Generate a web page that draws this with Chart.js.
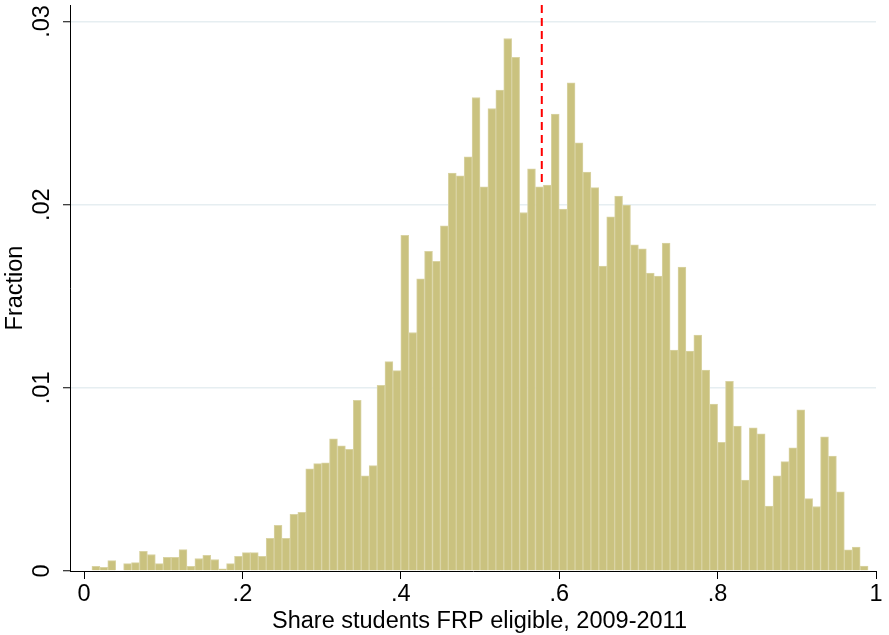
<!DOCTYPE html>
<html>
<head>
<meta charset="utf-8">
<script src="https://cdn.jsdelivr.net/npm/chart.js@4.4.1/dist/chart.umd.min.js"></script>
<style>
  html, body { margin: 0; padding: 0; background: #ffffff; }
  #wrap { width: 889px; height: 635px; }
</style>
</head>
<body>
<div id="wrap"><canvas id="chart" width="889" height="635"></canvas></div>
<script>
// Histogram bins: left edge of the first bin and the common bin width
const binStart = 0.01;
const binWidth = 0.01;

// Fraction of schools in each bin (98 bins, 0.01 .. 0.99)
const fractions = [
  0.00025, 0.00020, 0.00057, 0.00000, 0.00040, 0.00046, 0.00107, 0.00090, 0.00040, 0.00074,
  0.00074, 0.00117, 0.00025, 0.00068, 0.00085, 0.00063, 0.00012, 0.00040, 0.00080, 0.00100,
  0.00100, 0.00080, 0.00178, 0.00250, 0.00178, 0.00310, 0.00320, 0.00558, 0.00586, 0.00591,
  0.00722, 0.00684, 0.00664, 0.00932, 0.00520, 0.00575, 0.01014, 0.01143, 0.01094, 0.01833,
  0.01302, 0.01595, 0.01745, 0.01691, 0.01885, 0.02172, 0.02158, 0.02261, 0.02585, 0.02098,
  0.02525, 0.02626, 0.02907, 0.02804, 0.01957, 0.02196, 0.02097, 0.02107, 0.02495, 0.01976,
  0.02665, 0.02337, 0.02178, 0.02093, 0.01665, 0.01934, 0.02047, 0.01998, 0.01781, 0.01759,
  0.01627, 0.01610, 0.01790, 0.01206, 0.01659, 0.01200, 0.01288, 0.01097, 0.00911, 0.00703,
  0.01036, 0.00791, 0.00496, 0.00781, 0.00749, 0.00355, 0.00519, 0.00597, 0.00672, 0.00880,
  0.00395, 0.00352, 0.00732, 0.00628, 0.00432, 0.00115, 0.00131, 0.00027
];

// Axis ticks and their labels
const xTicks = [0, 0.2, 0.4, 0.6, 0.8, 1];
const xTickLabels = ['0', '.2', '.4', '.6', '.8', '1'];
const yTicks = [0, 0.01, 0.02, 0.03];
const yTickLabels = ['0', '.01', '.02', '.03'];
const xTitle = 'Share students FRP eligible, 2009-2011';

// Dashed reference line: x position and vertical extent (top, bottom)
const refLineX = 0.578;
const refLineSpan = [0.0309, 0.0212];

const FONT = "'Liberation Sans', Arial, sans-serif";
const FONT_SIZE = 23.5;
Chart.defaults.font.family = FONT;
Chart.defaults.color = '#000000';

const histData = fractions.map((f, i) => ({ x: binStart + (i + 0.5) * binWidth, y: f }));
const refLineData = refLineSpan.map(v => ({ x: refLineX, y: v }));

// Rotated y tick labels and the x axis title, positioned from the scales
const axisTextPlugin = {
  id: 'axisText',
  afterDraw(chart) {
    const ys = chart.scales.y;
    const xs = chart.scales.x;
    const ctx = chart.ctx;
    ctx.save();
    ctx.fillStyle = '#000000';
    ctx.font = FONT_SIZE + 'px ' + FONT;
    ctx.textAlign = 'center';
    ctx.textBaseline = 'alphabetic';
    yTicks.forEach((v, i) => {
      const py = ys.getPixelForValue(v);
      ctx.save();
      ctx.translate(49, py);
      ctx.rotate(-Math.PI / 2);
      ctx.fillText(yTickLabels[i], 0, 0);
      ctx.restore();
    });
    ctx.textBaseline = 'alphabetic';
    ctx.fillText(xTitle, (xs.left + chart.width) / 2, xs.bottom - 7);
    ctx.restore();
  }
};

new Chart(document.getElementById('chart'), {
  data: {
    datasets: [
      {
        type: 'line',
        data: refLineData,
        borderColor: '#ff0000',
        borderWidth: 2,
        borderDash: [8, 5],
        pointRadius: 0,
        fill: false,
        order: 0
      },
      {
        type: 'bar',
        data: histData,
        backgroundColor: '#cac27f',
        borderColor: '#d9d3a3',
        borderWidth: 1,
        barPercentage: 1,
        categoryPercentage: 1,
        order: 1
      }
    ]
  },
  options: {
    responsive: false,
    animation: false,
    devicePixelRatio: 1,
    layout: { padding: { top: 5, right: 13, left: 0, bottom: 0 } },
    plugins: {
      legend: { display: false },
      tooltip: { enabled: false }
    },
    scales: {
      x: {
        type: 'linear',
        offset: false,
        min: -0.0177,
        max: 1,
        afterBuildTicks: s => { s.ticks = xTicks.map(v => ({ value: v })); },
        afterFit: s => { s.height = 64; },
        ticks: {
          font: { size: FONT_SIZE },
          color: '#000000',
          padding: 1,
          maxRotation: 0,
          autoSkip: false,
          callback: v => xTickLabels[xTicks.indexOf(v)]
        },
        grid: {
          offset: false,
          drawOnChartArea: false,
          drawTicks: true,
          tickLength: 8,
          tickColor: '#000000',
          tickWidth: 1
        },
        border: { color: '#000000', width: 1 },
        title: { display: false }
      },
      y: {
        type: 'linear',
        min: 0,
        max: 0.0309,
        afterBuildTicks: s => { s.ticks = yTicks.map(v => ({ value: v })); },
        afterFit: s => { s.width = 70; },
        ticks: { display: false },
        grid: {
          drawOnChartArea: true,
          drawTicks: true,
          tickLength: 7,
          tickColor: '#000000',
          tickWidth: 1,
          lineWidth: 1.5,
          color: c => (c.tick && c.tick.value === 0) ? 'rgba(0,0,0,0)' : '#e6eef1'
        },
        border: { color: '#000000', width: 1 },
        title: {
          display: true,
          text: 'Fraction',
          font: { size: FONT_SIZE },
          color: '#000000',
          padding: { top: 1, bottom: 0 }
        }
      }
    }
  },
  plugins: [axisTextPlugin]
});
</script>
</body>
</html>
